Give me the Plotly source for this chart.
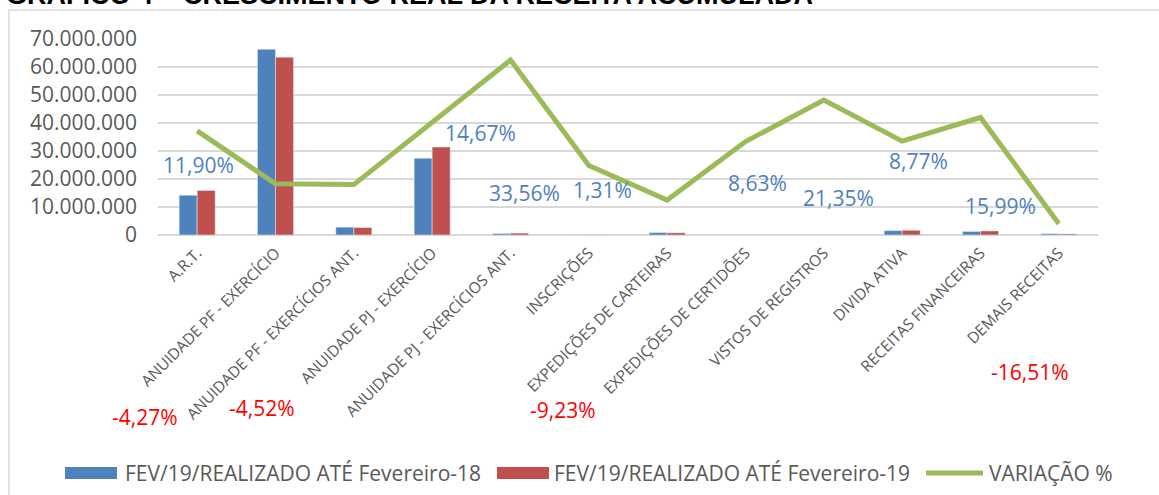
import plotly.graph_objects as go

# ---------------- data ----------------
categories = [
    "A.R.T.",
    "ANUIDADE PF - EXERCÍCIO",
    "ANUIDADE PF - EXERCÍCIOS ANT.",
    "ANUIDADE PJ - EXERCÍCIO",
    "ANUIDADE PJ - EXERCÍCIOS ANT.",
    "INSCRIÇÕES",
    "EXPEDIÇÕES DE CARTEIRAS",
    "EXPEDIÇÕES DE CERTIDÕES",
    "VISTOS DE REGISTROS",
    "DIVIDA ATIVA",
    "RECEITAS FINANCEIRAS",
    "DEMAIS RECEITAS",
]
realizado_fev18 = [14.2e6, 66.3e6, 2.8e6, 27.4e6, 0.50e6, 0.12e6, 0.85e6, 0.06e6, 0.05e6, 1.55e6, 1.25e6, 0.45e6]
realizado_fev19 = [15.9e6, 63.5e6, 2.65e6, 31.4e6, 0.67e6, 0.12e6, 0.77e6, 0.065e6, 0.06e6, 1.69e6, 1.45e6, 0.38e6]
variacao = [11.90, -4.27, -4.52, 14.67, 33.56, 1.31, -9.23, 8.63, 21.35, 8.77, 15.99, -16.51]
variacao_labels = ["11,90%", "-4,27%", "-4,52%", "14,67%", "33,56%", "1,31%",
                   "-9,23%", "8,63%", "21,35%", "8,77%", "15,99%", "-16,51%"]
y_ticks = [0, 10e6, 20e6, 30e6, 40e6, 50e6, 60e6, 70e6]
series_names = ["FEV/19/REALIZADO ATÉ Fevereiro-18", "FEV/19/REALIZADO ATÉ Fevereiro-19", "VARIAÇÃO %"]
title_text = "GRÁFICO 4 – CRESCIMENTO REAL DA RECEITA ACUMULADA"

# label placement (pixel centres in the 1159x495 page)
label_px = [(198, 165), (145, 417), (262, 408), (480, 133), (524, 193), (602, 190),
            (563, 410), (757, 183), (838, 198), (918, 161), (1000, 206), (1030, 372)]

# ---------------- layout geometry ----------------
W, H = 1159, 495
ML, MR, MT, MB = 158, 61, 39, 260
PW, PH = W - ML - MR, H - MT - MB


def px_to_paper(px, py):
    return (px - ML) / PW, (H - MB - py) / PH


BLUE = "#4f81bd"
RED = "#c0504d"
GREEN = "#9bbb59"
GRAY = "#595959"
FONT = "Open Sans"

fig = go.Figure()
fig.add_trace(go.Bar(x=categories, y=realizado_fev18, name=series_names[0],
                     marker=dict(color=BLUE), showlegend=False))
fig.add_trace(go.Bar(x=categories, y=realizado_fev19, name=series_names[1],
                     marker=dict(color=RED), showlegend=False))
fig.add_trace(go.Scatter(x=categories, y=variacao, name=series_names[2], yaxis="y2",
                         mode="lines", line=dict(color=GREEN, width=5), showlegend=False))

annotations = []
for txt, v, (px, py) in zip(variacao_labels, variacao, label_px):
    xp, yp = px_to_paper(px, py)
    annotations.append(dict(text=txt, x=xp, y=yp, xref="paper", yref="paper",
                            xanchor="center", yanchor="middle", showarrow=False,
                            font=dict(family=FONT, size=21, color=BLUE if v >= 0 else "#ff0000")))

# cut-off title at the very top (as in the original)
tx, ty = px_to_paper(4, 12)
annotations.append(dict(text="<b>" + title_text + "</b>",
                        x=tx, y=ty, xref="paper", yref="paper", xanchor="left", yanchor="bottom",
                        showarrow=False, font=dict(family="Liberation Sans", size=27, color="#000000")))

# custom legend (wide swatches like the original)
shapes = []
legend_items = [
    (series_names[0], BLUE, "rect", 65, 117, 123),
    (series_names[1], RED, "rect", 497, 549, 552),
    (series_names[2], GREEN, "line", 926, 983, 987),
]
LEG_Y = 473
for name, color, kind, sx0, sx1, tx0 in legend_items:
    a0, b0 = px_to_paper(sx0, LEG_Y - 6)
    a1, b1 = px_to_paper(sx1, LEG_Y + 6)
    if kind == "rect":
        shapes.append(dict(type="rect", xref="paper", yref="paper", x0=a0, x1=a1, y0=b1, y1=b0,
                           fillcolor=color, line=dict(width=0)))
    else:
        _, ym = px_to_paper(0, LEG_Y)
        shapes.append(dict(type="line", xref="paper", yref="paper", x0=a0, x1=a1, y0=ym, y1=ym,
                           line=dict(color=color, width=5)))
    lx, ly = px_to_paper(tx0, LEG_Y)
    annotations.append(dict(text=name, x=lx, y=ly, xref="paper", yref="paper",
                            xanchor="left", yanchor="middle", showarrow=False,
                            font=dict(family=FONT, size=21, color=GRAY)))

# chart border
bx0, by0 = px_to_paper(9, 10)
bx1, by1 = px_to_paper(1180, 520)
shapes.append(dict(type="rect", xref="paper", yref="paper", x0=bx0, y0=by1, x1=bx1, y1=by0,
                   line=dict(color="#d9d9d9", width=1.5), layer="below"))

fig.update_layout(
    width=W, height=H,
    margin=dict(l=ML, r=MR, t=MT, b=MB, autoexpand=False),
    paper_bgcolor="white", plot_bgcolor="white",
    separators=",.",
    barmode="group", bargap=0.54, bargroupgap=0,
    showlegend=False,
    xaxis=dict(tickangle=-45, tickfont=dict(family=FONT, size=15.5, color=GRAY),
               showgrid=False, showline=False, ticks="", ticklabelstandoff=5),
    yaxis=dict(range=[0, 70e6], tickvals=y_ticks, tickformat=",d",
               tickfont=dict(family=FONT, size=21, color=GRAY),
               gridcolor="#d9d9d9", gridwidth=2, zeroline=True, zerolinecolor="#d9d9d9",
               zerolinewidth=2, showline=False, ticks="", ticklabelstandoff=20),
    yaxis2=dict(range=[-19.93, 40.0], overlaying="y", side="right", visible=False),
    annotations=annotations,
    shapes=shapes,
)

fig.write_html("out.html", config={"displayModeBar": False},
               post_script="document.body.style.margin='0px';")
